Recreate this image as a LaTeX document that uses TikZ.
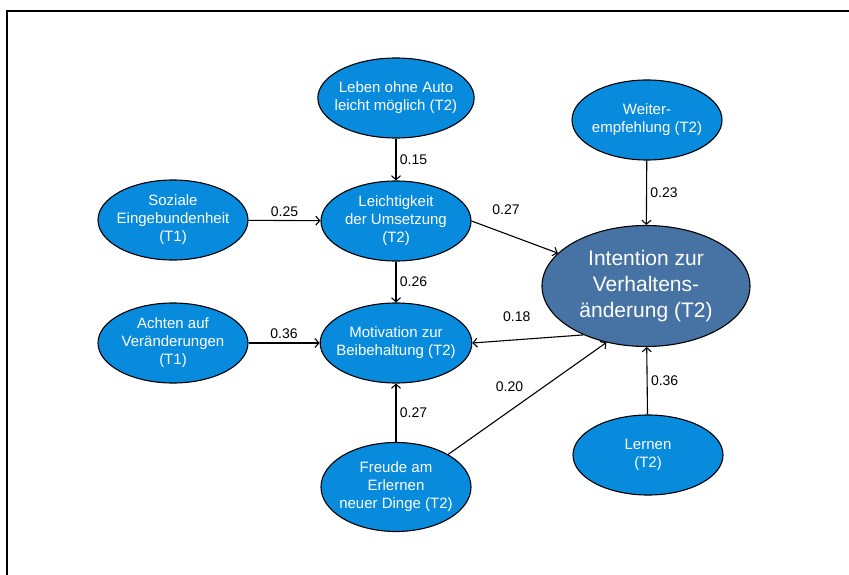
\documentclass[tikz,border=0pt]{standalone}
\usepackage{fontspec}
\setmainfont{Liberation Sans}
\usepackage{tikz}
\usetikzlibrary{shapes.geometric}
\usetikzlibrary{arrows.meta}
\definecolor{factor}{RGB}{8,138,221}
\definecolor{target}{RGB}{70,115,163}

\begin{document}
\begin{tikzpicture}[x=1pt,y=-1pt,
    var/.style={ellipse,draw=black,line width=1.1pt,fill=factor,text=white,align=center,
      inner xsep=-6pt,inner ysep=0pt,minimum width=150pt,minimum height=80pt,
      font=\fontsize{15}{18}\selectfont},
    coef/.style={font=\fontsize{14}{17}\selectfont}]
  \useasboundingbox (0,0) rectangle (849,575);
  \draw[line width=1.5pt] (7,575) -- (7,11) -- (849,11);

  \node[var] (leben) at (396,98) {Leben ohne Auto\\leicht möglich (T2)};
  \node[var] (weiter) at (647,120) {Weiter-\\empfehlung (T2)};
  \node[var] (sozial) at (173,220) {Soziale\\Eingebundenheit\\(T1)};
  \node[var] (leicht) at (396,221) {Leichtigkeit\\der Umsetzung\\(T2)};
  \node[var,fill=target,minimum width=208pt,minimum height=121pt,
    font=\fontsize{21}{26}\selectfont] (intent) at (646,286) {Intention zur\\Verhaltens-\\änderung (T2)};
  \node[var] (achten) at (173,343) {Achten auf\\Veränderungen\\(T1)};
  \node[var] (motiv) at (396,343) {Motivation zur\\Beibehaltung (T2)};
  \node[var,minimum height=89pt] (freude) at (396,487) {Freude am\\Erlernen\\neuer Dinge (T2)};
  \node[var] (lernen) at (648,455) {Lernen\\(T2)};

  \path[-{Straight Barb[length=4pt,width=9pt]},line width=1.1pt]
    (leben) edge node [coef,right] {0.15} (leicht)
    (sozial) edge node [coef,above] {0.25} (leicht)
    (leicht.east) edge node [coef,pos=0.4,above=15pt] {0.27} (intent)
    (weiter) edge node [coef,right] {0.23} (intent)
    (leicht) edge node [coef,right] {0.26} (motiv)
    (achten) edge node [coef,above] {0.36} (motiv)
    (intent.218) edge node [coef,pos=0.6,above=14pt] {0.18} (motiv.east)
    (freude) edge node [coef,right] {0.27} (motiv)
    (freude.32) edge node [coef,pos=0.53,anchor=south east,xshift=-5pt] {0.20} (intent.235)
    (lernen) edge node [coef,right] {0.36} (intent);
\end{tikzpicture}
\end{document}
